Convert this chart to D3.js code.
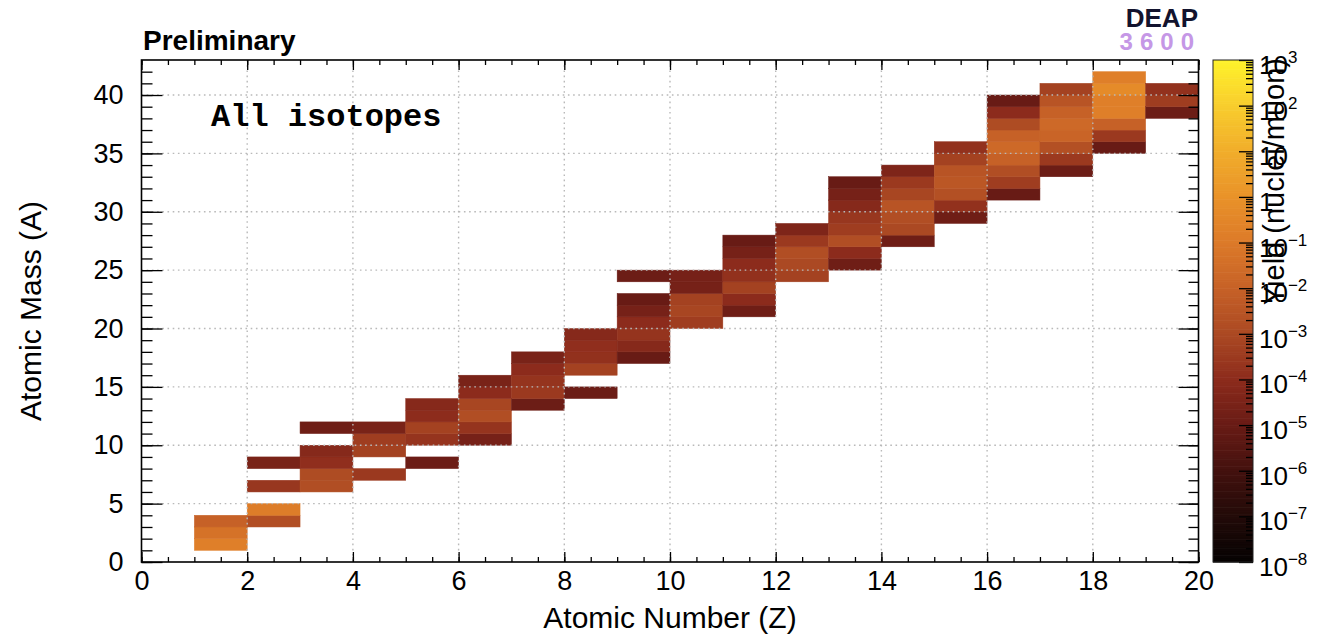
<!DOCTYPE html>
<html>
<head>
<meta charset="utf-8">
<script src="https://cdn.jsdelivr.net/npm/d3@7"></script>
<style>
  body { margin: 0; background: #fff; }
  svg { font-family: "Liberation Sans", Arial, Helvetica, sans-serif; }
</style>
</head>
<body>
<svg id="chart" width="1338" height="635"></svg>
<script>
// atomic number of each column
var zBins = [1, 2, 3, 4, 5, 6, 7, 8, 9, 10, 11, 12, 13, 14, 15, 16, 17, 18, 19];
// lowest mass number drawn in each column
var firstA = [1, 3, 6, 7, 8, 10, 13, 14, 17, 20, 21, 24, 25, 27, 29, 31, 33, 35, 38];
// yield (nuclei/muon) for A = firstA, firstA+1, ... ; null = empty bin
var yields = [
  [1.6e-1, 5e-2, 1e-2],
  [1.6e-3, 1.3e-1, null, 2.5e-4, null, 3e-5],
  [1.6e-3, 1.3e-3, 1.3e-4, 7e-5, null, 1.6e-5],
  [3e-4, null, 6e-4, 4e-4, 3e-5],
  [1.3e-5, null, 2e-4, 6e-4, 1.1e-4, 7e-5],
  [2.5e-5, 2e-4, 1.6e-3, 8e-4, 1e-4, 3e-5],
  [1.3e-5, 3e-4, 2e-4, 1e-4, 3e-5],
  [1.3e-5, null, 6e-4, 1.6e-4, 1.3e-4, 7e-5],
  [1e-5, 7e-5, 2e-4, 1e-4, 2.5e-5, 1e-5, null, 1.3e-5],
  [4e-4, 8e-4, 6e-4, 2.5e-5, 2.5e-5],
  [1.6e-5, 1e-4, 6e-4, 1.6e-4, 1e-4, 2.5e-5, 1e-5],
  [6e-4, 1e-3, 1.6e-3, 3e-4, 4e-5],
  [1.6e-5, 1e-4, 1.6e-3, 4e-4, 2.5e-4, 7e-5, 2.5e-5, 1e-5],
  [1.6e-5, 1e-3, 1.6e-3, 3e-3, 8e-4, 3e-4, 4e-5],
  [1.6e-5, 1.6e-4, 2e-3, 4e-3, 3e-3, 6e-4, 1.6e-4],
  [1e-5, 4e-4, 1.6e-3, 1e-2, 2e-2, 1e-2, 1.3e-3, 1e-4, 1e-5],
  [1.3e-5, 3e-4, 2e-3, 1.3e-2, 2e-2, 1e-2, 3e-3, 6e-4],
  [1e-5, 3e-4, 1e-2, 1.6e-1, 1.6e-1, 5e-1, 1.6e-1],
  [1.3e-5, 4e-4, 1.6e-4]
];
var xTicks = [0, 2, 4, 6, 8, 10, 12, 14, 16, 18, 20];
var yTicks = [0, 5, 10, 15, 20, 25, 30, 35, 40];
var decades = [-8, -7, -6, -5, -4, -3, -2, -1, 0, 1, 2, 3];
// colour of the palette at each decade, bottom to top
var paletteColors = ["#050202", "#220a08", "#43110e", "#681b15", "#8c2b1c", "#ab4923",
                     "#c66127", "#dc7a29", "#e99229", "#f1ad2b", "#f8cd2d", "#fff22b"];

var svg = d3.select("#chart");
var margin = {top: 60, left: 141.5, right: 1198.5, bottom: 562};

var x = d3.scaleLinear().domain([0, 20]).range([margin.left, margin.right]);
var y = d3.scaleLinear().domain([0, 43]).range([margin.bottom, margin.top]);
var color = d3.scaleLog()
  .domain(decades.map(function(d) { return Math.pow(10, d); }))
  .range(paletteColors)
  .clamp(true);

// flatten the columns into cells
var cells = [];
zBins.forEach(function(z, i) {
  yields[i].forEach(function(v, j) {
    if (v != null) cells.push({z: z, a: firstA[i] + j, v: v});
  });
});

svg.append("g").selectAll("rect")
  .data(cells)
  .enter()
  .append("rect")
    .attr("x", function(d) { return x(d.z); })
    .attr("y", function(d) { return y(d.a + 1); })
    .attr("width", function(d) { return x(d.z + 1) - x(d.z); })
    .attr("height", function(d) { return y(d.a) - y(d.a + 1); })
    .attr("fill", function(d) { return color(d.v); })
    .attr("stroke", function(d) { return color(d.v); })
    .attr("stroke-width", 0.5);

// dotted grid
var grid = svg.append("g")
  .attr("stroke", "#b9b9b9")
  .attr("stroke-width", 1.4)
  .attr("stroke-dasharray", "1.6,3.6");
grid.selectAll(".gx")
  .data(xTicks.slice(1, -1))
  .enter().append("line")
    .attr("x1", function(d) { return x(d); }).attr("x2", function(d) { return x(d); })
    .attr("y1", margin.top).attr("y2", margin.bottom);
grid.selectAll(".gy")
  .data(yTicks.slice(1))
  .enter().append("line")
    .attr("y1", function(d) { return y(d); }).attr("y2", function(d) { return y(d); })
    .attr("x1", margin.left).attr("x2", margin.right);

function styleAxis(g) {
  g.select(".domain").remove();
  g.selectAll("line").attr("stroke", "#000").attr("stroke-width", 1.3);
  g.selectAll("text").attr("fill", "#000")
    .style("font-size", "27px")
    .style("font-family", '"Liberation Sans", Arial, sans-serif');
}

var minorX = d3.range(0, 20.01, 0.5);
var minorY = d3.range(0, 43, 1);

svg.append("g").attr("transform", "translate(0," + margin.bottom + ")")
  .call(d3.axisBottom(x).tickValues(minorX).tickSize(-5).tickFormat("")).call(styleAxis);
svg.append("g").attr("transform", "translate(0," + margin.bottom + ")")
  .call(d3.axisBottom(x).tickValues(xTicks).tickSize(-10).tickPadding(9)).call(styleAxis);
svg.append("g").attr("transform", "translate(0," + margin.top + ")")
  .call(d3.axisTop(x).tickValues(minorX).tickSize(-5).tickFormat("")).call(styleAxis);
svg.append("g").attr("transform", "translate(0," + margin.top + ")")
  .call(d3.axisTop(x).tickValues(xTicks).tickSize(-10).tickFormat("")).call(styleAxis);

svg.append("g").attr("transform", "translate(" + margin.left + ",0)")
  .call(d3.axisLeft(y).tickValues(minorY).tickSize(-11).tickFormat("")).call(styleAxis);
svg.append("g").attr("transform", "translate(" + margin.left + ",0)")
  .call(d3.axisLeft(y).tickValues(yTicks).tickSize(-21).tickPadding(18)).call(styleAxis);
svg.append("g").attr("transform", "translate(" + margin.right + ",0)")
  .call(d3.axisRight(y).tickValues(minorY).tickSize(-10).tickFormat("")).call(styleAxis);
svg.append("g").attr("transform", "translate(" + margin.right + ",0)")
  .call(d3.axisRight(y).tickValues(yTicks).tickSize(-20).tickFormat("")).call(styleAxis);

svg.append("rect")
  .attr("x", margin.left).attr("y", margin.top)
  .attr("width", margin.right - margin.left).attr("height", margin.bottom - margin.top)
  .attr("fill", "none").attr("stroke", "#000").attr("stroke-width", 1.6);

// colour bar
var barX = 1213, barW = 40;
var zy = d3.scaleLog().domain([1e-8, 1e3]).range([margin.bottom, margin.top]);
var slices = d3.range(0, 220);
svg.append("g").selectAll("rect")
  .data(slices)
  .enter().append("rect")
    .attr("x", barX)
    .attr("width", barW)
    .attr("y", function(i) { return margin.bottom - (i + 1) * (margin.bottom - margin.top) / 220; })
    .attr("height", (margin.bottom - margin.top) / 220 + 0.6)
    .attr("fill", function(i) {
      var lg = -8 + 11 * (i + 0.5) / 220;
      return color(Math.pow(10, lg));
    });

var minorZ = [];
decades.slice(0, -1).forEach(function(d) {
  for (var k = 2; k < 10; k++) minorZ.push(k * Math.pow(10, d));
});
svg.append("g").attr("transform", "translate(" + (barX + barW) + ",0)")
  .call(d3.axisRight(zy).tickValues(minorZ).tickSize(-7).tickFormat("")).call(styleAxis);
svg.append("g").attr("transform", "translate(" + (barX + barW) + ",0)")
  .call(d3.axisRight(zy).tickValues(decades.map(function(d) { return Math.pow(10, d); }))
    .tickSize(-14).tickFormat("")).call(styleAxis);
svg.append("rect")
  .attr("x", barX).attr("y", margin.top)
  .attr("width", barW).attr("height", margin.bottom - margin.top)
  .attr("fill", "none").attr("stroke", "#222").attr("stroke-width", 1);

var zLabels = svg.append("g").selectAll("text")
  .data(decades)
  .enter().append("text")
    .attr("x", barX + barW + 6)
    .attr("y", function(d) { return zy(Math.pow(10, d)) + 14; })
    .style("font-size", "26px");
zLabels.append("tspan").text(function(d) { return d == 0 ? "1" : "10"; });
zLabels.append("tspan")
  .attr("dy", -11)
  .style("font-size", "17px")
  .text(function(d) { return (d == 0 || d == 1) ? "" : (d < 0 ? "\u2212" + (-d) : d); });

svg.append("text")
  .attr("transform", "translate(1284,58) rotate(-90)")
  .attr("text-anchor", "end")
  .style("font-size", "29px")
  .text("Yield (nuclei/muon)");

// titles
svg.append("text")
  .attr("x", (margin.left + margin.right) / 2)
  .attr("y", 628)
  .attr("text-anchor", "middle")
  .style("font-size", "30px")
  .text("Atomic Number (Z)");
svg.append("text")
  .attr("transform", "translate(41," + (margin.top + margin.bottom) / 2 + ") rotate(-90)")
  .attr("text-anchor", "middle")
  .style("font-size", "30px")
  .text("Atomic Mass (A)");

svg.append("text")
  .attr("x", 143).attr("y", 50)
  .style("font-size", "28px").style("font-weight", "bold")
  .text("Preliminary");

svg.append("text")
  .attr("x", 211).attr("y", 126)
  .style("font-family", '"Courier New", "Liberation Mono", "DejaVu Sans Mono", monospace')
  .style("font-size", "32px").style("font-weight", "bold")
  .text("All isotopes");

svg.append("text")
  .attr("x", 1198).attr("y", 27)
  .attr("text-anchor", "end")
  .style("font-size", "26px").style("font-weight", "bold")
  .attr("fill", "#12132e")
  .text("DEAP");
svg.append("text")
  .attr("x", 1201).attr("y", 50)
  .attr("text-anchor", "end")
  .style("font-size", "24px").style("font-weight", "bold")
  .attr("letter-spacing", 7)
  .attr("fill", "#c597e6")
  .text("3600");
</script>
</body>
</html>
